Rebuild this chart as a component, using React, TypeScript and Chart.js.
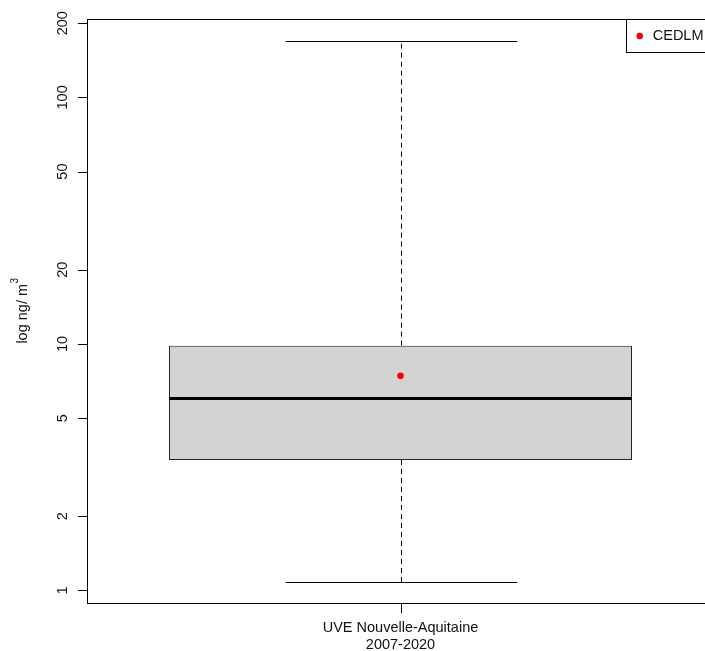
import React, { useEffect, useRef } from "react";
import { Chart, registerables } from "chart.js";

Chart.register(...registerables);

// ---- data ----
const CATEGORIES: string[][] = [["UVE Nouvelle-Aquitaine", "2007-2020"]];
const WHISKER_LOW: number[] = [1.08];
const Q1: number[] = [3.38];
const MEDIAN: number[] = [6.0];
const Q3: number[] = [9.84];
const WHISKER_HIGH: number[] = [170];
const MEAN: number[] = [7.42];
const Y_TICKS: number[] = [1, 2, 5, 10, 20, 50, 100, 200];
const LEGEND_LABELS: string[] = ["CEDLM"];
const Y_TITLE = "log ng/ m";
const Y_TITLE_SUP = "3";

const FONT = '"Liberation Sans", Arial, Helvetica, sans-serif';
const TEXT = "#111";

const boxPlugin = {
  id: "rbox",
  beforeDatasetsDraw(chart: any) {
    const ctx = chart.ctx;
    const xs = chart.scales.x;
    const ys = chart.scales.y;
    const meta = chart.getDatasetMeta(0);
    ctx.save();
    ctx.strokeStyle = "#000";
    ctx.lineWidth = 1;
    CATEGORIES.forEach((_, i) => {
      const bar = meta.data[i];
      const half = bar.width / 2;
      const cx = Math.round(xs.getPixelForValue(i)) + 0.5;
      const yl = ys.getPixelForValue(WHISKER_LOW[i]);
      const yq1 = ys.getPixelForValue(Q1[i]);
      const yq3 = ys.getPixelForValue(Q3[i]);
      const yh = ys.getPixelForValue(WHISKER_HIGH[i]);
      ctx.setLineDash([5, 4]);
      ctx.beginPath();
      ctx.moveTo(cx, yq1);
      ctx.lineTo(cx, yl);
      ctx.moveTo(cx, yq3);
      ctx.lineTo(cx, yh);
      ctx.stroke();
      ctx.setLineDash([]);
      ctx.beginPath();
      ctx.moveTo(cx - half / 2, Math.round(yl) + 0.5);
      ctx.lineTo(cx + half / 2, Math.round(yl) + 0.5);
      ctx.moveTo(cx - half / 2, Math.round(yh) + 0.5);
      ctx.lineTo(cx + half / 2, Math.round(yh) + 0.5);
      ctx.stroke();
    });
    ctx.restore();
  },
  afterDatasetsDraw(chart: any) {
    const ctx = chart.ctx;
    const xs = chart.scales.x;
    const ys = chart.scales.y;
    const { left, right, top, bottom } = chart.chartArea;
    const meta = chart.getDatasetMeta(0);
    ctx.save();
    // medians
    ctx.strokeStyle = "#000";
    ctx.lineWidth = 3;
    CATEGORIES.forEach((_, i) => {
      const bar = meta.data[i];
      const half = bar.width / 2;
      const cx = xs.getPixelForValue(i);
      const ym = ys.getPixelForValue(MEDIAN[i]);
      ctx.beginPath();
      ctx.moveTo(cx - half, ym);
      ctx.lineTo(cx + half, ym);
      ctx.stroke();
    });
    // frame
    ctx.lineWidth = 1;
    ctx.strokeRect(Math.round(left) - 0.5, Math.round(top) + 0.5, right - left, bottom - top);
    // y axis ticks + labels
    ctx.fillStyle = TEXT;
    ctx.font = `14.5px ${FONT}`;
    Y_TICKS.forEach((t) => {
      const y = Math.round(ys.getPixelForValue(t)) + 0.5;
      ctx.beginPath();
      ctx.moveTo(left - 10, y);
      ctx.lineTo(left, y);
      ctx.stroke();
      ctx.save();
      ctx.translate(left - 21.3, ys.getPixelForValue(t));
      ctx.rotate(-Math.PI / 2);
      ctx.textAlign = "center";
      ctx.textBaseline = "alphabetic";
      ctx.fillText(String(t), 0, 0);
      ctx.restore();
    });
    // x axis ticks + labels
    CATEGORIES.forEach((lines, i) => {
      const x = Math.round(xs.getPixelForValue(i)) + 0.5;
      ctx.beginPath();
      ctx.moveTo(x, bottom);
      ctx.lineTo(x, bottom + 10);
      ctx.stroke();
      ctx.textAlign = "center";
      ctx.textBaseline = "alphabetic";
      lines.forEach((ln, k) => {
        ctx.fillText(ln, xs.getPixelForValue(i), bottom + 29 + k * 17.3);
      });
    });
    // y title with superscript
    ctx.save();
    const midY = (top + bottom) / 2;
    ctx.font = `14.5px ${FONT}`;
    const w1 = ctx.measureText(Y_TITLE).width;
    ctx.font = `10px ${FONT}`;
    const w2 = ctx.measureText(Y_TITLE_SUP).width;
    const total = w1 + w2;
    ctx.translate(27, midY);
    ctx.rotate(-Math.PI / 2);
    ctx.textAlign = "left";
    ctx.textBaseline = "alphabetic";
    ctx.font = `14.5px ${FONT}`;
    ctx.fillText(Y_TITLE, -total / 2, 0);
    ctx.font = `10px ${FONT}`;
    ctx.fillText(Y_TITLE_SUP, -total / 2 + w1 + 0.5, -9);
    ctx.restore();
    // legend
    ctx.font = `14.5px ${FONT}`;
    const tw = Math.max(...LEGEND_LABELS.map((l) => ctx.measureText(l).width));
    const lx = right - tw - 36.5;
    const lh = 33;
    ctx.fillStyle = "#fff";
    ctx.fillRect(Math.round(lx) + 0.5, Math.round(top) + 0.5, right - lx, lh);
    ctx.strokeStyle = "#000";
    ctx.strokeRect(Math.round(lx) + 0.5, Math.round(top) + 0.5, right - lx, lh);
    LEGEND_LABELS.forEach((lab, k) => {
      const cy = top + 17 + k * 17;
      ctx.fillStyle = "red";
      ctx.beginPath();
      ctx.arc(lx + 14, cy, 3.3, 0, Math.PI * 2);
      ctx.fill();
      ctx.fillStyle = TEXT;
      ctx.textAlign = "left";
      ctx.textBaseline = "middle";
      ctx.fillText(lab, lx + 27, cy);
    });
    ctx.restore();
  },
};

export default function App() {
  const ref = useRef<HTMLCanvasElement | null>(null);
  useEffect(() => {
    if (!ref.current) return;
    const chart = new Chart(ref.current, {
      type: "bar",
      data: {
        labels: CATEGORIES.map((c) => c.join(" ")),
        datasets: [
          {
            type: "bar",
            label: "box",
            data: CATEGORIES.map((_, i) => [Q1[i], Q3[i]]) as any,
            backgroundColor: "#d3d3d3",
            borderColor: "#222",
            borderWidth: 1,
            borderSkipped: false,
            barPercentage: 0.8 / 1.08,
            categoryPercentage: 1,
            order: 2,
          } as any,
          {
            type: "line",
            label: LEGEND_LABELS[0],
            data: MEAN,
            showLine: false,
            pointRadius: 3.3,
            pointBackgroundColor: "#ff0000",
            pointBorderColor: "#ff0000",
            pointBorderWidth: 0,
            order: 1,
          } as any,
        ],
      },
      options: {
        animation: false,
        responsive: false,
        devicePixelRatio: 1,
        layout: { padding: { left: 88, top: 19, right: 17, bottom: 48 } },
        plugins: { legend: { display: false }, tooltip: { enabled: false } },
        scales: {
          x: { type: "category", display: false, offset: true },
          y: { type: "logarithmic", display: false, min: 0.889, max: 208 },
        },
      },
      plugins: [boxPlugin],
    });
    return () => chart.destroy();
  }, []);
  return (
    <div
      style={{
        position: "fixed",
        left: 0,
        top: 0,
        width: 705,
        height: 651,
        overflow: "hidden",
        background: "#fff",
      }}
    >
      <canvas ref={ref} width={730} height={651} style={{ display: "block", width: 730, height: 651 }} />
    </div>
  );
}
